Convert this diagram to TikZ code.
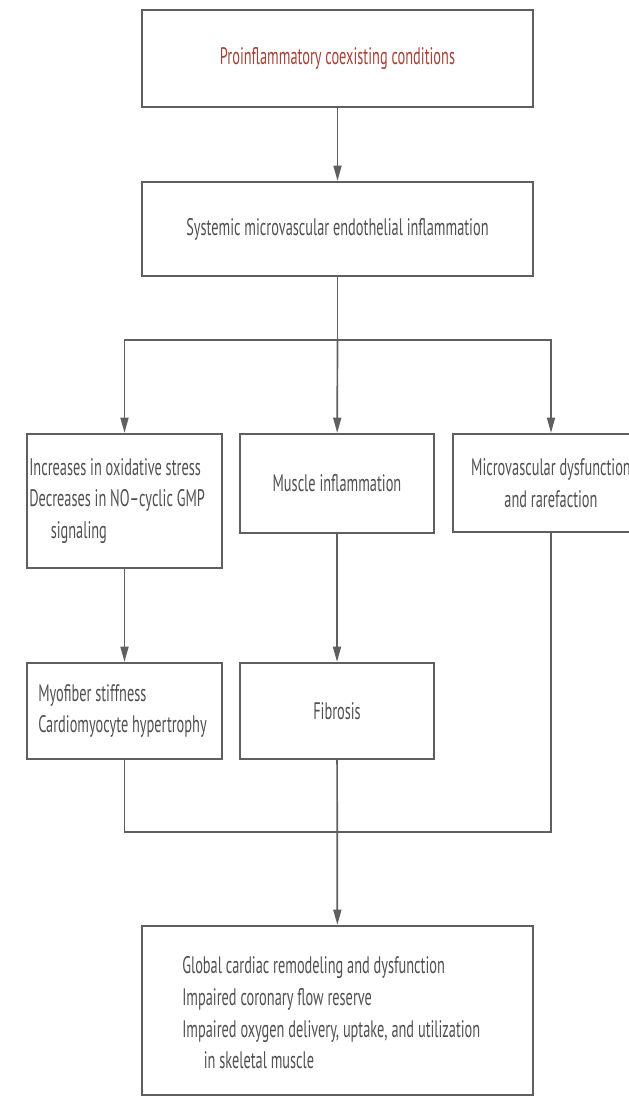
\documentclass[tikz,border=0pt]{standalone}
\usepackage{fontspec}
\setmainfont[FakeStretch=0.6]{PT Sans}
\usepackage{tikz}
\usetikzlibrary{arrows.meta}
\definecolor{boxgray}{RGB}{95,95,95}
\definecolor{txtgray}{RGB}{80,80,80}
\definecolor{redtxt}{RGB}{165,65,55}
\tikzset{flowbox/.style={rectangle,draw=boxgray,line width=1.6pt,inner sep=0pt,text=txtgray,
                         font=\fontsize{17}{22.5}\selectfont},
         flowbox/.default=black,
         link/.style={draw=boxgray,line width=1.2pt},
         arr/.style={link,-{Triangle[length=3.8mm,width=2mm]}}}

\begin{document}
\begin{tikzpicture}[x=0.025cm,y=-0.025cm]
\useasboundingbox (0,0) rectangle (629,1097);

%%top of the chain
\node[flowbox,minimum width=9.775cm,minimum height=2.425cm,text=redtxt] (cond) at (337.5,58.5) {Proinflammatory coexisting conditions};
\node[flowbox,minimum width=9.775cm,minimum height=2.35cm] (sysinf) at (337.5,229) {Systemic microvascular endothelial inflammation};

%%three branches
\node[flowbox,minimum width=4.875cm,minimum height=3.35cm] (oxid) at (124.5,501) {};
\node[txtgray,font=\fontsize{17}{22.5}\selectfont,align=left,anchor=north west,inner sep=0pt] (oxidtxt) at (29,458)
  {Increases in oxidative stress\\Decreases in NO--cyclic GMP\\\hspace*{0.9em}signaling};
\node[flowbox,minimum width=4.85cm,minimum height=2.475cm] (muscinf) at (337,483.5) {Muscle inflammation};
\node[flowbox,minimum width=4.9cm,minimum height=2.45cm,align=center] (micro) at (551,483) {Microvascular dysfunction\\and rarefaction};

%%second row
\node[flowbox,minimum width=4.875cm,minimum height=2.4cm] (myo) at (124.5,711) {};
\node[txtgray,font=\fontsize{17}{22.5}\selectfont,align=left,anchor=west,inner sep=0pt] (myotxt) at (38,711)
  {Myofiber stiffness\\Cardiomyocyte hypertrophy};
\node[flowbox,minimum width=4.85cm,minimum height=2.4cm] (fib) at (337,711) {Fibrosis};

%%outcome
\node[flowbox,minimum width=9.775cm,minimum height=4.225cm] (glob) at (337.5,1010.5) {};
\node[txtgray,font=\fontsize{17}{22.5}\selectfont,align=left,anchor=west,inner sep=0pt] (globtxt) at (182,1013)
  {Global cardiac remodeling and dysfunction\\Impaired coronary flow reserve\\Impaired oxygen delivery, uptake, and utilization\\\hspace*{0.9em}in skeletal muscle};

\coordinate (split) at (337.5,340);
\coordinate (join) at (337,832);

\draw[arr] (cond) -- (sysinf);
\draw[link] (sysinf) -- (split);
\draw[arr] (split) -| (oxid.north);
\draw[arr] (split) -- (muscinf);
\draw[arr] (split) -| (micro.north);
\draw[arr] (oxid) -- (myo);
\draw[arr] (muscinf) -- (fib);
\draw[link] (myo) |- (join);
\draw[link] (micro) |- (join);
\draw[arr] (fib) -- (glob);
\end{tikzpicture}
\end{document}
